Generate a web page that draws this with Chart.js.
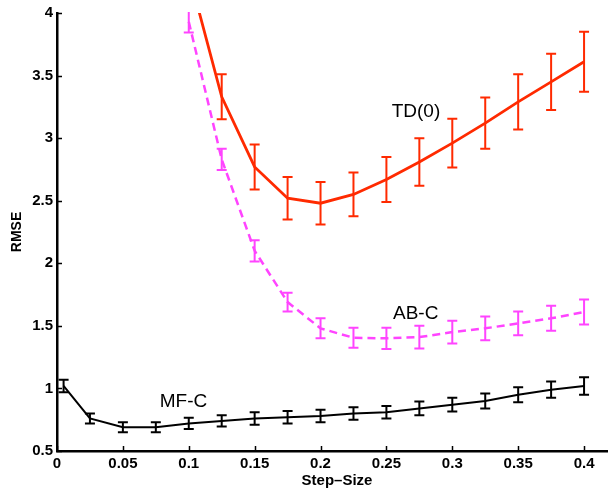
<!DOCTYPE html>
<html>
<head>
<meta charset="utf-8">
<script src="https://cdn.jsdelivr.net/npm/chart.js@4.4.0/dist/chart.umd.min.js"></script>
<style>
  html, body { margin: 0; padding: 0; overflow: hidden; background: #fff; }
  canvas { display: block; }
</style>
</head>
<body>
<canvas id="plots" width="617" height="491"></canvas>
<script>
// MF-C
const stepMF = [0.005, 0.025, 0.05, 0.075, 0.1, 0.125, 0.15, 0.175, 0.2, 0.225, 0.25, 0.275, 0.3, 0.325, 0.35, 0.375, 0.4]
const rmseMF = [1.02, 0.76, 0.69, 0.69, 0.72, 0.74, 0.76, 0.77, 0.78, 0.80, 0.81, 0.84, 0.87, 0.90, 0.95, 0.99, 1.02]
const errMF  = [0.05, 0.04, 0.04, 0.04, 0.045, 0.045, 0.05, 0.05, 0.05, 0.05, 0.05, 0.055, 0.055, 0.06, 0.06, 0.065, 0.07]

// AB-C
const stepAB = [0.1, 0.125, 0.15, 0.175, 0.2, 0.225, 0.25, 0.275, 0.3, 0.325, 0.35, 0.375, 0.4]
const rmseAB = [3.93, 2.83, 2.10, 1.69, 1.48, 1.405, 1.40, 1.41, 1.45, 1.48, 1.52, 1.56, 1.61]
const errAB  = [0.085, 0.085, 0.085, 0.075, 0.08, 0.08, 0.085, 0.09, 0.09, 0.095, 0.095, 0.10, 0.10]

// TD(0)
const stepTD = [0.1, 0.125, 0.15, 0.175, 0.2, 0.225, 0.25, 0.275, 0.3, 0.325, 0.35, 0.375, 0.4]
const rmseTD = [4.32, 3.33, 2.77, 2.52, 2.48, 2.55, 2.67, 2.81, 2.96, 3.12, 3.29, 3.45, 3.61]
const errTD  = [0.18, 0.18, 0.18, 0.17, 0.17, 0.175, 0.18, 0.19, 0.195, 0.205, 0.22, 0.225, 0.24]

const xTicks = [0, 0.05, 0.1, 0.15, 0.2, 0.25, 0.3, 0.35, 0.4]
const yTicks = [0.5, 1, 1.5, 2, 2.5, 3, 3.5, 4]

const curveNames = ['MF-C', 'AB-C', 'TD(0)']
// where each curve name sits, in step-size / rmse units
const namePos = [[0.078, 0.89], [0.255, 1.60], [0.254, 3.21]]

function pts(xs, ys) {
  return xs.map((v, i) => ({ x: v, y: ys[i] }))
}

const BOLD = '"Liberation Sans", Arial, Helvetica, sans-serif'

// error bars, inward tick marks and the curve names
const extras = {
  id: 'extras',
  afterDatasetsDraw(chart) {
    const { ctx, chartArea: a, scales: { x, y } } = chart
    ctx.save()
    ctx.beginPath()
    ctx.rect(a.left, a.top - 1, a.right - a.left, a.bottom - a.top + 1)
    ctx.clip()
    chart.data.datasets.forEach(ds => {
      ctx.strokeStyle = ds.borderColor
      ctx.lineWidth = 2
      ctx.setLineDash([])
      ds.data.forEach((p, i) => {
        const e = ds.err[i]
        const px = x.getPixelForValue(p.x)
        const t = y.getPixelForValue(p.y + e)
        const b = y.getPixelForValue(p.y - e)
        ctx.beginPath()
        ctx.moveTo(px, t); ctx.lineTo(px, b)
        ctx.moveTo(px - 5, t); ctx.lineTo(px + 5, t)
        ctx.moveTo(px - 5, b); ctx.lineTo(px + 5, b)
        ctx.stroke()
      })
    })
    ctx.restore()
  },
  afterDraw(chart) {
    const { ctx, chartArea: a, scales: { x, y } } = chart
    ctx.save()
    ctx.strokeStyle = '#000'
    ctx.lineWidth = 1.5
    ctx.beginPath()
    yTicks.forEach(v => {
      const py = Math.round(y.getPixelForValue(v)) + 0.5
      ctx.moveTo(a.left, py); ctx.lineTo(a.left + 5, py)
    })
    xTicks.forEach(v => {
      const px = Math.round(x.getPixelForValue(v)) + 0.5
      ctx.moveTo(px, a.bottom); ctx.lineTo(px, a.bottom - 5)
    })
    ctx.stroke()

    ctx.fillStyle = '#000'
    ctx.font = '19px ' + BOLD
    ctx.textAlign = 'left'
    ctx.textBaseline = 'middle'
    curveNames.forEach((n, i) => {
      ctx.fillText(n, x.getPixelForValue(namePos[i][0]), y.getPixelForValue(namePos[i][1]))
    })
    ctx.restore()
  }
}

const plots = document.getElementById('plots')
const chart = new Chart(plots, {
  type: 'line',
  data: {
    datasets: [
      {
        data: pts(stepMF, rmseMF), err: errMF,
        borderColor: '#000000', borderWidth: 2
      },
      {
        data: pts(stepAB, rmseAB), err: errAB,
        borderColor: '#ff44ff', borderWidth: 2.5, borderDash: [8, 5]
      },
      {
        data: pts(stepTD, rmseTD), err: errTD,
        borderColor: '#ff2a00', borderWidth: 2.8
      }
    ]
  },
  options: {
    responsive: false,
    animation: false,
    events: [],
    layout: { padding: { left: 0, top: 10, right: 0, bottom: 0 } },
    elements: { point: { radius: 0 }, line: { tension: 0 } },
    plugins: { legend: { display: false }, tooltip: { enabled: false } },
    scales: {
      x: {
        type: 'linear', min: 0, max: 0.425,
        afterBuildTicks: s => { s.ticks = xTicks.map(v => ({ value: v })) },
        afterFit: s => { s.height = 40 },
        grid: { display: false, drawTicks: false },
        border: { display: true, color: '#000', width: 2.5 },
        ticks: {
          padding: 4, color: '#000', maxRotation: 0, autoSkip: false,
          font: { family: BOLD, size: 15, weight: 'bold' },
          callback: v => String(v)
        },
        title: {
          display: true, text: 'Step–Size', color: '#000',
          font: { family: BOLD, size: 15, weight: 'bold' },
          padding: { top: 0, bottom: 1 }
        }
      },
      y: {
        type: 'linear', min: 0.5, max: 4,
        afterBuildTicks: s => { s.ticks = yTicks.map(v => ({ value: v })) },
        afterFit: s => { s.width = 57 },
        grid: { display: false, drawTicks: false },
        border: { display: true, color: '#000', width: 2.5 },
        ticks: {
          padding: 4, color: '#000', autoSkip: false,
          font: { family: BOLD, size: 15, weight: 'bold' },
          callback: v => String(v)
        },
        title: {
          display: true, text: 'RMSE', color: '#000',
          font: { family: BOLD, size: 14, weight: 'bold' },
          padding: { top: 9, bottom: 0 }
        }
      }
    }
  },
  plugins: [extras]
})
</script>
</body>
</html>
